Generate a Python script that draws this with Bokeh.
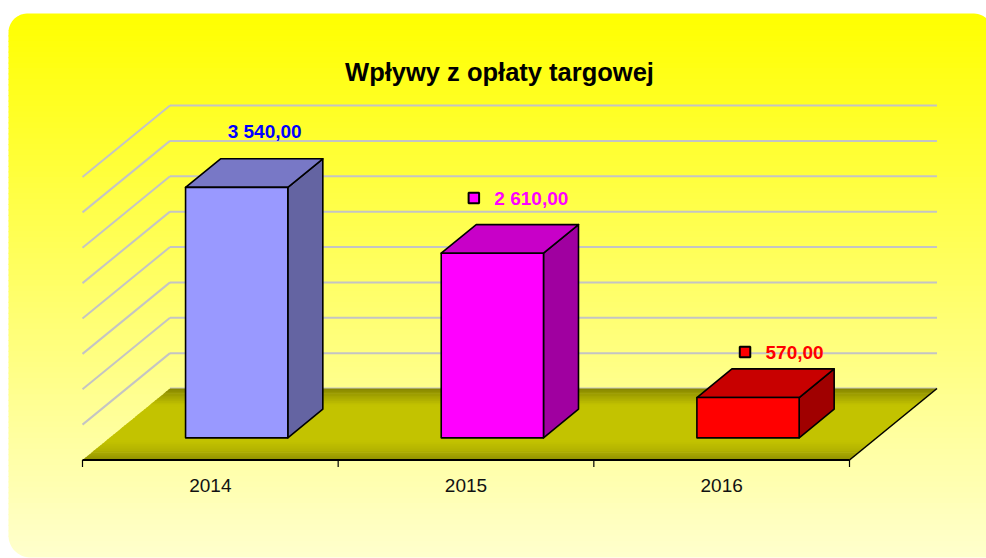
import numpy as np
from bokeh.plotting import figure
from bokeh.models import Range1d
from bokeh.embed import file_html
from bokeh.resources import INLINE
from bokeh.core.properties import value

# ---------------- data ----------------
title_text = "Wpływy z opłaty targowej"
years = ["2014", "2015", "2016"]
amounts = [3540.0, 2610.0, 570.0]
amount_labels = ["3 540,00", "2 610,00", "570,00"]
grid_values = [0, 500, 1000, 1500, 2000, 2500, 3000, 3500, 4000]

# ---------------- styles ----------------
front_colors = ["#9999FF", "#FF00FF", "#FF0000"]
top_colors = ["#7878C6", "#C800C8", "#C80000"]
side_colors = ["#6464A2", "#A000A0", "#A00000"]
label_colors = ["#0000FF", "#FF00FF", "#FF0000"]
show_key = [False, True, True]
label_dx_px = [-44.0, -33.0, -17.5]     # text left relative to bar top-back centre
label_rise_px = [20.0, 18.0, 8.5]       # baseline above bar top-back edge
FONT = value("Liberation Sans")
TXT_FIX = 0.4                            # baseline correction (em) for svg text

# ---------------- layout ----------------
W, H = 986, 558
X0_PX = 82.0              # px of category origin on front floor edge
CAT_PX = 255.667          # px per category
Y0_PX = 459.5             # px (from top) of value 0 at front floor edge
VAL_PX = 35.375 / 500.0   # px per value unit
DEPTH_DX = 87.5 / CAT_PX
DEPTH_DY = 71.5 / VAL_PX
BAR_GAP, BAR_W = 0.297, 0.4
Z_FRONT, Z_BACK = 0.31, 0.71
n_cat = len(years)
PANEL_L, PANEL_T, PANEL_R, PANEL_B = 8.0, 13.0, 993.0, 557.0


def fx(px):
    return (px - X0_PX) / CAT_PX


def fy(py):
    return (Y0_PX - py) / VAL_PX


p = figure(width=W, height=H,
           x_range=Range1d(fx(0), fx(W)), y_range=Range1d(fy(H), fy(0)),
           output_backend="svg", toolbar_location=None,
           x_axis_type=None, y_axis_type=None, min_border=0,
           outline_line_color=None, background_fill_color="white",
           border_fill_color="white")

# ---- panel background gradient ----
n_strips = 100
edges = np.linspace(PANEL_T, PANEL_B, n_strips + 1)
bg_cols = []
for i in range(n_strips):
    t = (i + 0.5) / n_strips
    b = int(round(205 * t))
    bg_cols.append("#%02x%02x%02x" % (255, 255, b))
p.quad(left=fx(PANEL_L), right=fx(PANEL_R),
       top=[fy(e) for e in edges[:-1]],
       bottom=[fy(min(e + 1.2, PANEL_B)) for e in edges[1:]],
       fill_color=bg_cols, line_color=None)

# rounded corner masks
def corner_mask(cx, cy, r, a0, a1, corner):
    ang = np.linspace(a0, a1, 24)
    xs = [corner[0]] + list(cx + r * np.cos(ang))
    ys = [corner[1]] + list(cy + r * np.sin(ang))
    return [fx(v) for v in xs], [fy(v) for v in ys]

masks = [
    corner_mask(PANEL_L + 19, PANEL_T + 19, 19, np.pi, 1.5 * np.pi, (PANEL_L - 2, PANEL_T - 2)),
    corner_mask(PANEL_R - 20, PANEL_T + 20, 20, 1.5 * np.pi, 2 * np.pi, (PANEL_R + 2, PANEL_T - 2)),
    corner_mask(PANEL_L + 22, PANEL_B - 22, 22, 0.5 * np.pi, np.pi, (PANEL_L - 2, PANEL_B + 2)),
]
p.patches([m[0] for m in masks], [m[1] for m in masks],
          fill_color="white", line_color=None)

# ---- back wall and side wall grid lines ----
p.segment(x0=[DEPTH_DX] * len(grid_values), y0=[v + DEPTH_DY for v in grid_values],
          x1=[n_cat + DEPTH_DX] * len(grid_values), y1=[v + DEPTH_DY for v in grid_values],
          line_color="#C4C4C4", line_width=2)
side_vals = [v for v in grid_values if v > 0]
p.segment(x0=[DEPTH_DX] * len(side_vals), y0=[v + DEPTH_DY for v in side_vals],
          x1=[0.0] * len(side_vals), y1=side_vals,
          line_color="#C4C4C4", line_width=2)

# ---- floor with depth gradient ----
zs = [0.0, 0.035, 0.13, 0.27, 0.76, 0.86, 1.0]
gs = [0x92, 0x98, 0xB2, 0xC3, 0xC3, 0xAC, 0x86]
n_fl = 40
zed = np.linspace(0, 1, n_fl + 1)
fxs, fys, fcols = [], [], []
for i in range(n_fl):
    z0, z1 = zed[i], min(1.0, zed[i + 1] + 0.01)
    fxs.append([z0 * DEPTH_DX, n_cat + z0 * DEPTH_DX, n_cat + z1 * DEPTH_DX, z1 * DEPTH_DX])
    fys.append([z0 * DEPTH_DY, z0 * DEPTH_DY, z1 * DEPTH_DY, z1 * DEPTH_DY])
    g = int(round(np.interp((zed[i] + zed[i + 1]) / 2, zs, gs)))
    fcols.append("#%02x%02x00" % (g, g))
p.patches(fxs, fys, fill_color=fcols, line_color=None)

# floor edges and category ticks
p.segment(x0=[0.0, n_cat], y0=[0.0, 0.0], x1=[n_cat, n_cat + DEPTH_DX], y1=[0.0, DEPTH_DY],
          line_color="black", line_width=[2.2, 1.6])
tick_x = list(range(n_cat + 1))
p.segment(x0=tick_x, y0=[0.0] * len(tick_x), x1=tick_x, y1=[fy(Y0_PX + 7)] * len(tick_x),
          line_color="black", line_width=1.2)

# ---- 3D bars ----
bx, by, bc = [], [], []
for i, v in enumerate(amounts):
    x0 = i + BAR_GAP
    x1 = x0 + BAR_W
    fdx, fdy = Z_FRONT * DEPTH_DX, Z_FRONT * DEPTH_DY
    bdx, bdy = Z_BACK * DEPTH_DX, Z_BACK * DEPTH_DY
    # side face
    bx.append([x1 + fdx, x1 + bdx, x1 + bdx, x1 + fdx])
    by.append([fdy, bdy, v + bdy, v + fdy])
    bc.append(side_colors[i])
    # top face
    bx.append([x0 + fdx, x1 + fdx, x1 + bdx, x0 + bdx])
    by.append([v + fdy, v + fdy, v + bdy, v + bdy])
    bc.append(top_colors[i])
    # front face
    bx.append([x0 + fdx, x1 + fdx, x1 + fdx, x0 + fdx])
    by.append([fdy, fdy, v + fdy, v + fdy])
    bc.append(front_colors[i])
p.patches(bx, by, fill_color=bc, line_color="black", line_width=1.6, line_join="round")

# ---- value labels ----
LBL_PX = 19.0
lx, ly = [], []
kx, ky, kc = [], [], []
for i, v in enumerate(amounts):
    cx = i + BAR_GAP + BAR_W / 2 + Z_BACK * DEPTH_DX
    cy = v + Z_BACK * DEPTH_DY
    tx = cx + label_dx_px[i] / CAT_PX
    base = cy + label_rise_px[i] / VAL_PX
    lx.append(tx)
    ly.append(base + TXT_FIX * LBL_PX / VAL_PX)
    if show_key[i]:
        kx.append(tx - 20.5 / CAT_PX)
        ky.append(base + 8.5 / VAL_PX)
        kc.append(front_colors[i])
p.text(x=lx, y=ly, text=amount_labels, text_color=label_colors,
       text_font=FONT, text_font_size=value("19px"), text_font_style="bold",
       text_align="left", text_baseline="alphabetic")
p.scatter(x=kx, y=ky, marker="square", size=10.5, fill_color=kc,
          line_color="black", line_width=2)

# ---- category labels ----
p.text(x=[i + 0.5 for i in range(n_cat)], y=[fy(492.7 - TXT_FIX * 19)] * n_cat, text=years,
       text_color="#111111", text_font=FONT, text_font_size=value("19px"),
       text_align="center", text_baseline="alphabetic")

# ---- title ----
p.text(x=[fx(499)], y=[fy(81.7 - TXT_FIX * 25.5)], text=[title_text], text_color="black",
       text_font=FONT, text_font_size=value("25.5px"), text_font_style="bold",
       text_align="center", text_baseline="alphabetic")

open("out.html", "w").write(file_html(p, INLINE))
